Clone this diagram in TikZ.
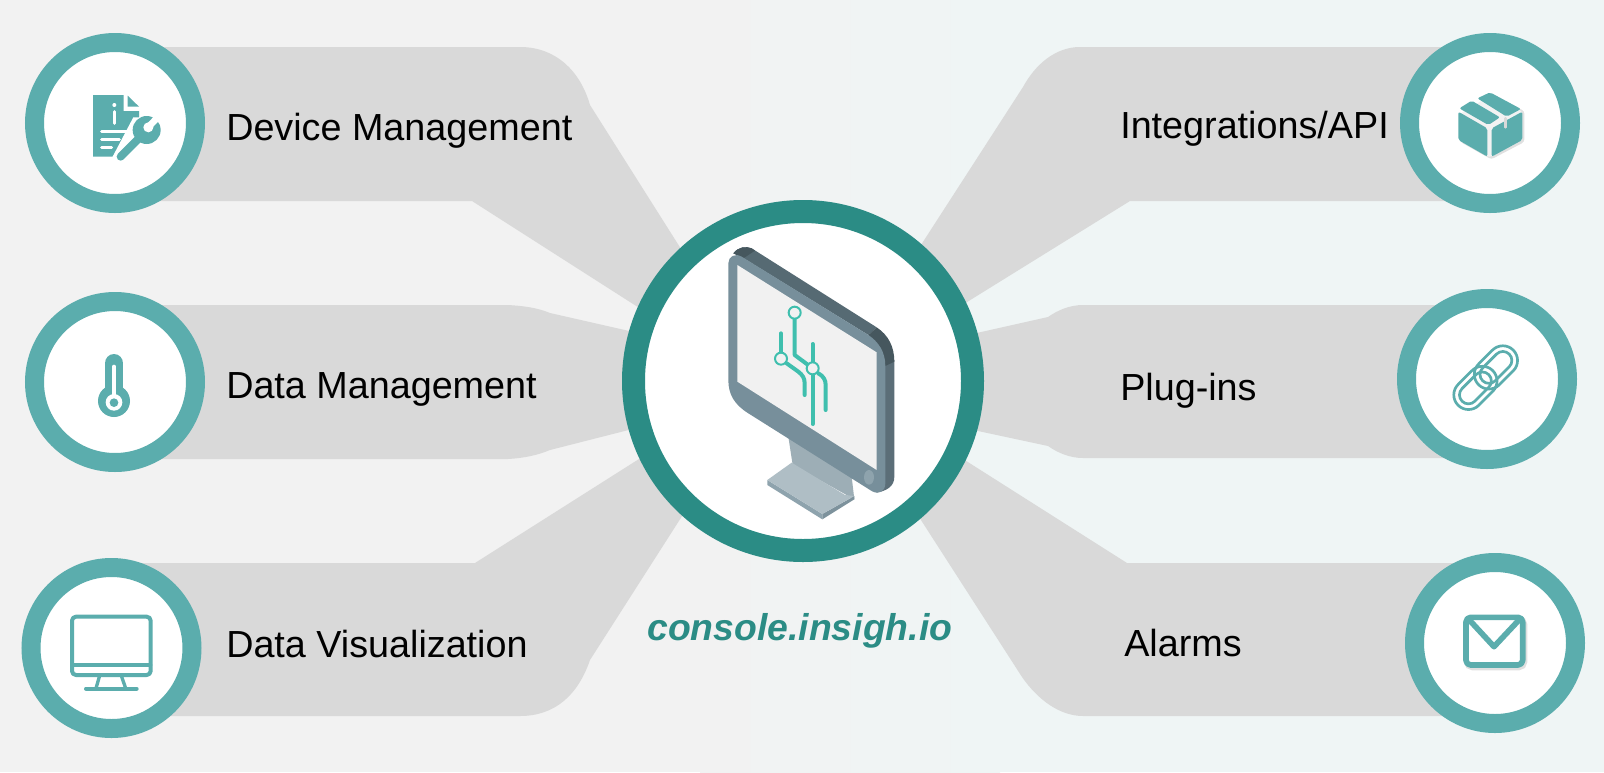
\documentclass[tikz,border=0pt]{standalone}
\usepackage{fontspec}
\setmainfont{Liberation Sans}
\usetikzlibrary{shadows}
\definecolor{bgleft}{HTML}{F2F2F2}
\definecolor{bgright}{HTML}{EFF5F5}
\definecolor{bandgray}{HTML}{D9D9D9}
\definecolor{iconteal}{HTML}{5BADAD}
\definecolor{hubteal}{HTML}{2B8C85}
\definecolor{circuit}{HTML}{3FBFAE}
\definecolor{screenface}{HTML}{778F9B}
\definecolor{screenglass}{HTML}{F1F1F1}
\definecolor{edgetop}{HTML}{566A73}
\definecolor{edgedark}{HTML}{46575E}
\definecolor{edgeside}{HTML}{5B6E78}
\definecolor{neckgray}{HTML}{9DAEB6}
\definecolor{basetop}{HTML}{AFBEC5}
\definecolor{basefront}{HTML}{8EA3AD}
\definecolor{baseside}{HTML}{7D929C}
\tikzset{
	band/.style={fill=bandgray,draw=none},
	ring/.style={circle,draw=iconteal,fill=white,line width=14.25pt,minimum size=120.75pt,inner sep=0pt,
		circular drop shadow={shadow xshift=1.5pt,shadow yshift=-1.5pt,shadow scale=1.02,opacity=.25}},
	hub/.style={circle,draw=hubteal,fill=white,line width=17.25pt,minimum size=254.25pt,inner sep=0pt,
		circular drop shadow={shadow xshift=1.5pt,shadow yshift=-2pt,shadow scale=1.02,opacity=.25}},
	lbl/.style={anchor=base west,inner sep=0pt,font=\fontsize{28.3}{34}\selectfont},
	zoomed/.style={x=0.25pt,y=-0.25pt},
	ico/.style={fill=iconteal,draw=none},
	icoline/.style={draw=iconteal,line cap=round,line join=round},
	cut/.style={draw=white,line cap=round},
	trace/.style={draw=circuit,line width=3pt,line cap=round,line join=round,fill=none},
	pad/.style={draw=circuit,line width=1.5pt,fill=screenglass},
	linkline/.style={draw=iconteal,line width=2pt,fill=none},
}
\begin{document}
\begin{tikzpicture}[x=0.75pt,y=-0.75pt]
	\useasboundingbox (0,0) rectangle (1604,772);
	% background
	\fill[bgleft] (0,0) rectangle (700,772);
	\fill[left color=bgleft,right color=bgright] (700,0) rectangle (1000,772);
	\fill[bgright] (1000,0) rectangle (1604,772);

	% bands to the hub
	\fill[band] (115,47) -- (520,47) .. controls (555,47) and (580,70) .. (590,105) -- (700,279) -- (680,334) -- (472,201) -- (115,201) -- cycle;
	\fill[band] (115,305) -- (508,305) .. controls (525,306) and (538,308) .. (550,313) -- (660,338) -- (660,422) -- (550,450) .. controls (538,455) and (525,458) .. (508,459) -- (115,459) -- cycle;
	\fill[band] (115,563) -- (475,563) -- (680,433) -- (700,488) -- (590,660) .. controls (578,695) and (555,716) .. (520,716) -- (115,716) -- cycle;
	\fill[band] (1490,47) -- (1080,47) .. controls (1055,47) and (1035,65) .. (1023,87) -- (910,262) -- (930,325) -- (1130,201) -- (1490,201) -- cycle;
	\fill[band] (1487,305) -- (1083,305) .. controls (1070,305) and (1058,310) .. (1048,317) -- (950,339) -- (950,425) -- (1048,446) .. controls (1058,453) and (1070,458) .. (1083,458) -- (1487,458) -- cycle;
	\fill[band] (1495,563) -- (1127,563) -- (930,438) -- (910,503) -- (1022,677) .. controls (1038,700) and (1060,716) .. (1083,716) -- (1495,716) -- cycle;

	% rings
	\node[ring] (devring) at (115,123) {};
	\node[ring] (dataring) at (115,382) {};
	\node[ring] (visring) at (111.5,648) {};
	\node[ring] (apiring) at (1490,123) {};
	\node[ring] (plugring) at (1487,379) {};
	\node[ring] (alarmring) at (1495,643) {};
	\node[hub] (hub) at (803,381) {};

	% labels
	\node[lbl] (devlbl) at (226,140) {Device Management};
	\node[lbl] (datalbl) at (226,398) {Data Management};
	\node[lbl] (vislbl) at (226,657) {Data Visualization};
	\node[lbl] (apilbl) at (1120,138) {Integrations/API};
	\node[lbl] (pluglbl) at (1120,400) {Plug-ins};
	\node[lbl] (alarmlbl) at (1124,656) {Alarms};
	\node[lbl,text=hubteal,font=\fontsize{28}{34}\selectfont\bfseries\itshape] (console) at (647,640) {console.insigh.io};

	% monitor
	\begin{scope}[shift={(660,220)},zoomed]
		\fill[neckgray] (385,650) -- (398,735) -- (583,838) -- (575,770) -- cycle;
		\fill[basefront] (322,780) -- (322,795) -- (487,898) -- (487,882) -- cycle;
		\fill[baseside] (487,882) -- (583,828) -- (583,838) -- (487,898) -- cycle;
		\fill[basetop] (322,780) -- (395,728) -- (555,825) -- (583,828) -- (487,882) -- cycle;
		\fill[edgeside] (640,400) -- (703,420) -- (703,770) .. controls (703,800) and (680,812) .. (650,818) -- (640,600) -- cycle;
		\fill[edgetop] (220,100) .. controls (235,80) and (258,78) .. (275,85) -- (650,322) -- (625,345) -- (240,108) -- cycle;
		\fill[edgedark] (650,322) .. controls (685,345) and (703,380) .. (703,425) -- (676,438) -- (625,345) -- cycle;
		\fill[edgedark] (220,100) .. controls (235,80) and (258,78) .. (275,85) -- (285,92) -- (250,115) -- cycle;
		\fill[screenface] (205,130) .. controls (205,110) and (225,98) .. (245,110) -- (625,345) .. controls (655,365) and (676,395) .. (676,438) -- (676,790) .. controls (676,815) and (655,825) .. (635,813) -- (265,580) .. controls (225,555) and (205,525) .. (205,480) -- cycle;
		\fill[screenglass] (232,135) -- (650,397) -- (650,750) -- (232,485) -- cycle;
		\fill[basefront] (627,772) ellipse[x radius=15,y radius=22];
		\draw[trace] (404,298) -- (404,405) -- (458,445);
		\draw[trace] (363,340) -- (363,398);
		\draw[trace] (380,430) -- (415,455) .. controls (428,465) and (434,475) .. (434,490) -- (434,525);
		\draw[trace] (458,372) -- (458,612);
		\draw[trace] (475,460) .. controls (490,468) and (497,480) .. (497,495) -- (497,570);
		\draw[pad] (404,278) circle[radius=18];
		\draw[pad] (363,416) circle[radius=18];
		\draw[pad] (458,445) circle[radius=18];
	\end{scope}

	% document and wrench
	\begin{scope}[shift={(20,30)},zoomed]
		\fill[ico] (219,195) -- (311,195) -- (311,243) -- (357,243) -- (357,380) -- (219,380) -- cycle;
		\fill[ico] (323,197) -- (357,230) -- (323,230) -- cycle;
		\fill[white] (340,262) -- (430,262) -- (430,395) -- (270,395) -- cycle;
		\fill[white] (283,225) circle[radius=6];
		\draw[cut,line width=2.25pt] (283,245) -- (283,280);
		\draw[cut,line width=2.25pt] (245,305) -- (325,305);
		\draw[cut,line width=2.25pt] (245,328) -- (298,328);
		\draw[cut,line width=2.25pt] (245,352) -- (275,352);
		\draw[cut,line width=10pt] (302,380) -- (360,322);
		\draw[icoline,line width=6pt] (302,380) -- (360,322);
		\fill[ico] (380,300) circle[radius=42];
		\fill[white] (385,292) circle[radius=15];
		\draw[cut,line width=5pt,line cap=butt] (388,288) -- (425,250);
	\end{scope}

	% thermometer
	\begin{scope}[shift={(20,280)},zoomed]
		\draw[icoline,line width=14pt] (282,250) -- (282,340);
		\fill[ico] (282,363) circle[radius=48];
		\draw[cut,line width=3pt] (282,260) -- (282,345);
		\fill[white] (282,367) circle[radius=25];
		\fill[ico] (282,368) circle[radius=13];
	\end{scope}

	% desktop
	\begin{scope}[shift={(10,535)},zoomed]
		\draw[icoline,line width=3pt,rounded corners=3pt] (186,245) rectangle (422,420);
		\draw[icoline,line width=2.5pt] (186,390) -- (422,390);
		\draw[icoline,line width=2.5pt] (268,425) -- (258,460);
		\draw[icoline,line width=2.5pt] (335,425) -- (347,460);
		\draw[icoline,line width=3pt] (228,461) -- (380,461);
	\end{scope}

	% parcel
	\begin{scope}[shift={(1360,30)},zoomed]
		\fill[black,opacity=.12,rounded corners=2pt] (301,251) -- (396,193) -- (493,243) -- (493,336) -- (394,388) -- (301,336) -- cycle;
		\fill[white,opacity=.6,rounded corners=2pt] (295,245) -- (390,187) -- (487,245) -- (487,330) -- (388,382) -- (295,330) -- cycle;
		\fill[ico,rounded corners=1.5pt] (295,245) -- (382,295) -- (382,380) -- (295,330) -- cycle;
		\fill[ico,rounded corners=1.5pt] (395,295) -- (487,245) -- (487,330) -- (395,380) -- cycle;
		\fill[ico,rounded corners=1.5pt] (298,235) -- (335,212) -- (420,262) -- (385,285) -- cycle;
		\fill[ico,rounded corners=1.5pt] (352,205) -- (390,187) -- (483,237) -- (440,260) -- cycle;
		\draw[draw=bandgray,line width=2pt,line cap=round] (436,265) -- (436,292);
	\end{scope}

	% chain
	\begin{scope}[shift={(1360,280)},zoomed]
		\begin{scope}[shift={(377,293)},rotate=45]
			\draw[linkline,rounded corners=11pt] (-117,-44) rectangle (30,44);
			\draw[linkline,rounded corners=6.75pt] (-100,-27) rectangle (13,27);
			\draw[linkline,rounded corners=11pt] (-30,-44) rectangle (117,44);
			\draw[linkline,rounded corners=6.75pt] (-13,-27) rectangle (100,27);
		\end{scope}
	\end{scope}

	% envelope
	\begin{scope}[shift={(1360,530)},zoomed]
		\draw[black,opacity=.12,line width=5pt,rounded corners=4pt] (322,268) rectangle (492,411);
		\fill[white] (325,270) rectangle (482,398);
		\draw[icoline,line width=4.25pt,rounded corners=3.5pt] (318,262) rectangle (488,405);
		\draw[icoline,line width=4.25pt] (330,272) -- (402,350) -- (475,272);
	\end{scope}
\end{tikzpicture}
\end{document}
